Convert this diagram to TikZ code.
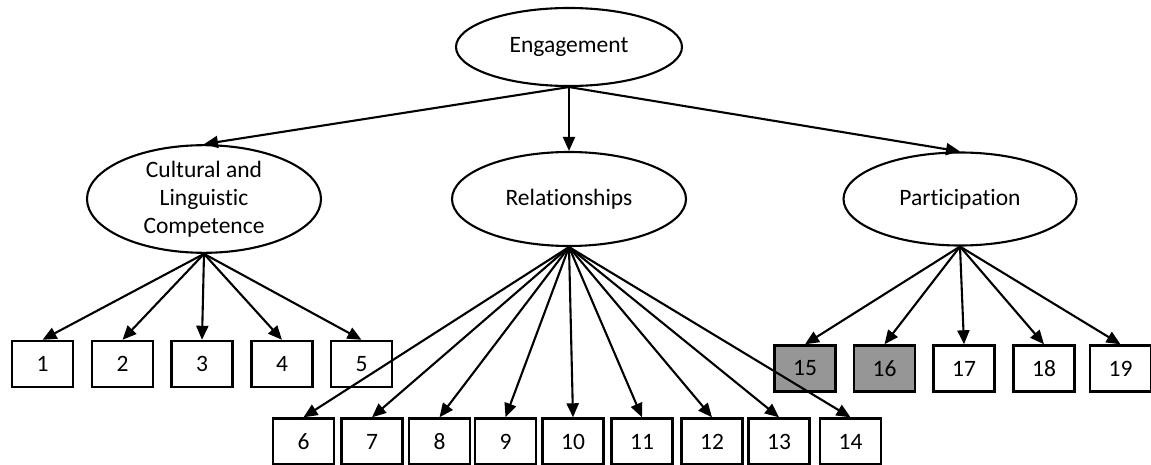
\documentclass[tikz,border=0pt]{standalone}
\usepackage{fontspec}
\setmainfont{Carlito}[Ligatures=NoCommon]
\usetikzlibrary{shapes.geometric,arrows.meta}
\definecolor{boxgray}{RGB}{150,150,150}
\tikzset{
  latent/.style={ellipse, draw, line width=2.1pt, inner sep=0pt, align=center,
    font=\fontsize{23.5}{28}\selectfont},
  item/.style={rectangle, draw, line width=2.4pt, minimum width=61pt, minimum height=46pt,
    inner sep=0pt, font=\fontsize{23.5}{27}\selectfont},
  grayitem/.style={item, fill=boxgray},
  link/.style={line width=2.1pt, -{Triangle[length=14pt,width=12pt]}},
}
\begin{document}
\begin{tikzpicture}[x=1pt,y=-1pt]
\useasboundingbox (0,0) rectangle (1151,465);
\node[latent, minimum width=226pt, minimum height=78pt] (eng) at (569,47) {Engagement};
\node[latent, minimum width=234pt, minimum height=94pt] (clc) at (204,199) {Cultural and\\Linguistic\\Competence};
\node[latent, minimum width=234pt, minimum height=94pt] (rel) at (569,199) {Relationships};
\node[latent, minimum width=233pt, minimum height=93pt] (par) at (960,199) {Participation};

\draw[link] (eng.south) -- (clc.north);
\draw[link] (eng.south) -- (rel.north);
\draw[link] (eng.south) -- (par.north);

% row 1 (Cultural)
\node[item] (b1) at (42.5,364) {1};
\node[item] (b2) at (122.5,364) {2};
\node[item] (b3) at (202,364) {3};
\node[item] (b4) at (282,364) {4};
\node[item] (b5) at (361.5,364) {5};
% row 2 (Relationships)
\node[item] (b6) at (303.5,441.5) {6};
\node[item] (b7) at (372,441.5) {7};
\node[item] (b8) at (439.5,441.5) {8};
\node[item] (b9) at (505.5,441.5) {9};
\node[item] (b10) at (573,441.5) {10};
\node[item] (b11) at (642,441.5) {11};
\node[item] (b12) at (712,441.5) {12};
\node[item] (b13) at (779,441.5) {13};
\node[item] (b14) at (850.5,441.5) {14};
% row 1 (Participation)
\node[grayitem] (b15) at (805,368.5) {15};
\node[grayitem] (b16) at (884.5,368.5) {16};
\node[item] (b17) at (964,368.5) {17};
\node[item] (b18) at (1044,368.5) {18};
\node[item] (b19) at (1120.5,368.5) {19};

\foreach \i in {1,...,5} \draw[link] (clc.south) -- (b\i.north);
\foreach \i in {6,...,14} \draw[link] (rel.south) -- (b\i.north);
\foreach \i in {15,...,19} \draw[link] (par.south) -- (b\i.north);
\end{tikzpicture}
\end{document}
